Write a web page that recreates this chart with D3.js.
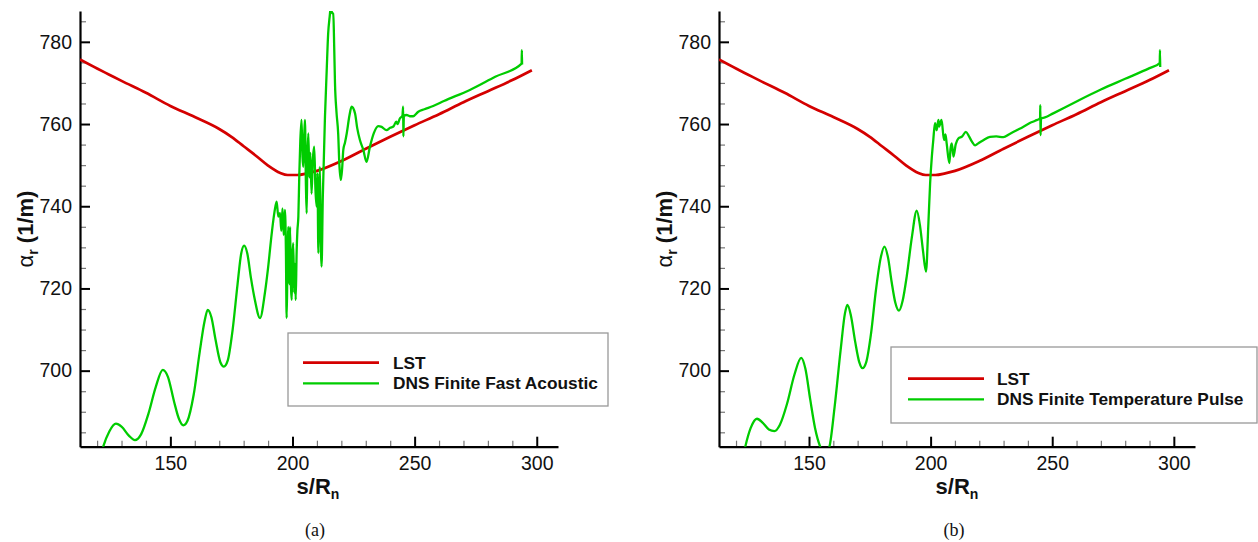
<!DOCTYPE html>
<html>
<head>
<meta charset="utf-8">
<script src="https://cdn.jsdelivr.net/npm/d3@7"></script>
<style>
  body { margin: 0; background: #fff; }
  svg { display: block; }
  .tick text { font-family: Arial, "Liberation Sans", sans-serif; font-size: 19.5px; fill: #111; }
</style>
</head>
<body>
<svg id="chart" width="1258" height="542"></svg>
<script>
// LST (same in both panels)
var lstS = [113, 120, 125, 130, 140, 150, 160, 170, 175, 180, 185, 190, 195, 198, 202, 206, 210, 220, 230, 240, 250, 260, 270, 280, 290, 298];
var lstV = [775.7, 773.5, 772, 770.5, 767.6, 764.4, 761.7, 758.8, 756.9, 754.6, 752.3, 749.9, 748.1, 747.6, 747.6, 748, 748.6, 751, 754, 756.9, 759.7, 762.4, 765.3, 768, 770.7, 773.1];

// DNS finite fast acoustic (panel a)
var fastS = [120.5, 122.5, 125, 127.7, 130, 133, 135.5, 138, 141, 144, 146.9, 149, 151.5, 153.5, 155.3, 157, 159.5, 162, 164, 165.3,
  166.8, 168.5, 170.5, 171.9, 173.5, 175.5, 177.5, 179, 180.2, 181.5, 183, 184.6, 186.7, 188.7, 190, 191.5, 192.6, 193.5, 194.2, 194.9,
  195.4, 195.9, 196.4, 196.9, 197.3, 197.6, 197.9, 198.3, 198.7, 199, 199.4, 199.7, 200, 200.3, 200.7, 201, 201.3, 201.7, 202, 202.4,
  202.8, 203.2, 203.7, 204.1, 204.4, 204.8, 205.1, 205.5, 205.8, 206.1, 206.5, 206.9, 207.3, 207.8, 208.3, 208.9, 209.4, 209.9, 210.2, 210.6,
  210.9, 211.2, 211.5, 211.9, 212.4, 213.3, 214, 214.6, 215.2, 215.7, 216.2, 216.7, 217.1, 217.4, 218, 218.7, 219.2, 219.8, 220.3, 220.8,
  221.5, 222.2, 223.3, 224.2, 225.6, 226.5, 227.6, 229, 230.3, 231.7, 233.3, 235.1, 236.5, 238.5, 240, 241.3, 242.5, 243, 244, 245,
  245.3, 245.4, 245.6, 246.7, 248, 249.4, 251.5, 254, 257.6, 262, 272.6, 283, 293.8, 293.9, 294];
var fastV = [677, 681.5, 685.2, 687.1, 686.4, 684.2, 683.1, 684.5, 689.5, 696, 700.2, 698.5, 692.5, 688.3, 686.7, 687.8, 694, 704.5, 712, 714.8,
  713, 707.5, 702, 701, 702.5, 710, 721, 728.5, 730.4, 728.5, 722.5, 717.2, 712.8, 718.9, 725, 733.4, 738.5, 741.1, 737.5, 738.3,
  734, 739.5, 733, 739.1, 729.4, 712.8, 724, 735, 721, 735, 720, 717.2, 728, 731, 719, 726, 717.2, 729, 734, 737.5,
  748, 756, 761, 752, 749.6, 757, 761, 745, 738.3, 752, 757.7, 747, 753, 743.1, 751, 754.5, 744, 739.9, 748, 728.6,
  740, 749.6, 735, 725.3, 742, 761.8, 773, 782, 786, 788.5, 787, 786.9, 778, 769.9, 763, 757.7, 750, 746.4, 749, 753.7,
  755.5, 757.7, 762, 764.2, 762.6, 759, 756.1, 753.7, 750.8, 754.5, 757.8, 759.5, 759.3, 758.5, 759.1, 759.4, 760.6, 760, 761.4, 762,
  764.2, 757, 762, 762.2, 761.9, 761.9, 763, 763.6, 764.4, 765.6, 768.3, 771.5, 774.7, 778, 774.5];

// DNS finite temperature pulse (panel b)
var tempS = [122.5, 123.8, 126, 128.6, 131, 133.5, 135.8, 138, 141, 144, 146.8, 148.5, 150.5, 152.5, 154.6, 156.5, 158.4, 160.5, 163, 164.8,
  165.8, 167.2, 169, 170.7, 172, 173.5, 175.5, 177.5, 179.5, 181, 182.5, 184, 185.5, 187, 188.5, 190.2, 192.3, 194.3, 195.7, 196.9,
  198.1, 199.1, 199.8, 200.5, 201.1, 201.8, 202.5, 203.2, 203.5, 204.5, 205.5, 206.1, 206.6, 207.7, 208.2, 208.7, 209.4, 210.3, 211.4, 213,
  214.5, 215.8, 217, 218.3, 219.6, 221.5, 224.4, 227, 229.9, 232.5, 235.4, 238, 241, 243, 245, 245.1, 245.2, 245.4, 247, 250.4,
  260, 270, 280, 290, 294.2, 294.3, 294.4];
var tempV = [678, 681.5, 686, 688.3, 687.3, 685.7, 685.3, 686.8, 692, 699, 703.1, 700.5, 693, 686, 681.5, 679.5, 681.5, 691, 705, 714,
  716, 713.5, 707, 702, 700.6, 702, 709, 719.5, 727.5, 730.2, 727.5, 721.5, 716.5, 714.6, 717, 723, 732.5, 738.9, 735, 729,
  724.1, 736, 745.6, 752, 756.1, 760.2, 758.5, 761, 759.4, 761, 756.1, 757.5, 755.3, 750.5, 754, 755.3, 752.1, 755, 756.5, 757,
  758.1, 757, 755.7, 754.8, 755.3, 756, 756.9, 757, 756.8, 757.6, 758.5, 759.3, 760.3, 760.8, 761.4, 764.6, 757.3, 761.4, 761.6, 762.6,
  765.5, 768.4, 771, 773.6, 774.8, 778, 773.9];

var xTicks = [150, 200, 250, 300];
var yTicks = [700, 720, 740, 760, 780];
var seriesNames = ["LST", "DNS Finite Fast Acoustic", "DNS Finite Temperature Pulse"];

var red = "#d40000", green = "#00cc00";
var font = "Arial, 'Liberation Sans', sans-serif";
var svg = d3.select("#chart");
svg.append("rect").attr("width", 1258).attr("height", 542).attr("fill", "#fff");

var panels = [
  {x0: 80, x1: 558, s: fastS, v: fastV, name: seriesNames[1], tag: "(a)", lab: 318,
   leg: {x: 288, y: 333, w: 320, h: 73, lx: 303, lw: 76, tx: 393, ty: 362.7, dy: 20.6}},
  {x0: 719, x1: 1195, s: tempS, v: tempV, name: seriesNames[2], tag: "(b)", lab: 957,
   leg: {x: 891, y: 347, w: 366, h: 76, lx: 908, lw: 76, tx: 997, ty: 378.7, dy: 20.6}}
];
var yTop = 11, yBot = 446.7;

panels.forEach(function(p, i) {
  var x = d3.scaleLinear().domain([113, 308.7]).range([p.x0, p.x1]);
  var y = d3.scaleLinear().domain([681.5, 787.5]).range([yBot, yTop]);
  var g = svg.append("g");

  var clipId = "clip" + i;
  svg.append("clipPath").attr("id", clipId).append("rect")
    .attr("x", p.x0).attr("y", yTop).attr("width", p.x1 - p.x0).attr("height", yBot - yTop);

  var line = d3.line().curve(d3.curveMonotoneX)
    .x(function(d) { return x(d[0]) }).y(function(d) { return y(d[1]) });

  // minor ticks
  g.append("g").attr("transform", "translate(0," + yBot + ")")
    .call(d3.axisBottom(x).tickValues(d3.range(120, 309, 10).filter(function(t) { return t % 50 }))
      .tickSize(-6).tickSizeOuter(0).tickFormat(""))
    .call(function(a) { a.select(".domain").remove(); a.selectAll("line").attr("stroke", "#777").attr("stroke-width", 1.2) });
  g.append("g").attr("transform", "translate(" + p.x0 + ",0)")
    .call(d3.axisLeft(y).tickValues(d3.range(685, 788, 5).filter(function(t) { return t % 20 }))
      .tickSize(-6).tickSizeOuter(0).tickFormat(""))
    .call(function(a) { a.select(".domain").remove(); a.selectAll("line").attr("stroke", "#777").attr("stroke-width", 1.2) });

  // major axes
  g.append("g").attr("transform", "translate(0," + yBot + ")")
    .call(d3.axisBottom(x).tickValues(xTicks).tickSize(-10).tickSizeOuter(0).tickPadding(9))
    .call(function(a) {
      a.select(".domain").attr("stroke", "#000").attr("stroke-width", 2.2);
      a.selectAll("line").attr("stroke", "#000").attr("stroke-width", 2);
    });
  g.append("g").attr("transform", "translate(" + p.x0 + ",0)")
    .call(d3.axisLeft(y).tickValues(yTicks).tickSize(-10).tickSizeOuter(0).tickPadding(8))
    .call(function(a) {
      a.select(".domain").attr("stroke", "#000").attr("stroke-width", 2.2);
      a.selectAll("line").attr("stroke", "#000").attr("stroke-width", 2);
    });

  // curves
  var plot = g.append("g").attr("clip-path", "url(#" + clipId + ")");
  plot.append("path").datum(d3.zip(lstS, lstV))
    .attr("d", line).attr("fill", "none").attr("stroke", red).attr("stroke-width", 2.7);
  plot.append("path").datum(d3.zip(p.s, p.v))
    .attr("d", line).attr("fill", "none").attr("stroke", green).attr("stroke-width", 2.3).attr("stroke-linejoin", "round");

  // axis titles
  var yl = g.append("text").attr("transform", "translate(" + (p.x0 - 47) + ",229) rotate(-90)")
    .attr("text-anchor", "middle").attr("font-family", font).attr("font-size", 22).attr("fill", "#111");
  yl.append("tspan").text("α");
  yl.append("tspan").attr("font-size", 14).attr("font-weight", "bold").attr("dy", 5).text("r");
  yl.append("tspan").attr("dy", -5).attr("font-weight", "bold").text(" (1/m)");

  var xl = g.append("text").attr("x", p.lab).attr("y", 494).attr("text-anchor", "middle")
    .attr("font-family", font).attr("font-size", 22).attr("font-weight", "bold").attr("fill", "#111");
  xl.append("tspan").text("s/R");
  xl.append("tspan").attr("font-size", 14).attr("dy", 5).text("n");

  g.append("text").attr("x", p.lab - 3).attr("y", 536).attr("text-anchor", "middle")
    .attr("font-family", "'Liberation Serif', 'Times New Roman', serif").attr("font-size", 18).attr("fill", "#111").text(p.tag);

  // legend
  var L = p.leg;
  g.append("rect").attr("x", L.x).attr("y", L.y).attr("width", L.w).attr("height", L.h)
    .attr("fill", "#fff").attr("stroke", "#999").attr("stroke-width", 1.3);
  [[seriesNames[0], red], [p.name, green]].forEach(function(e, k) {
    var ly = L.ty + k * L.dy;
    g.append("line").attr("x1", L.lx).attr("x2", L.lx + L.lw).attr("y1", ly).attr("y2", ly)
      .attr("stroke", e[1]).attr("stroke-width", k ? 2.2 : 2.7);
    g.append("text").attr("x", L.tx).attr("y", ly + 6).attr("font-family", font).attr("font-size", 17.3)
      .attr("font-weight", "bold").attr("fill", "#111").text(e[0]);
  });
});
</script>
</body>
</html>
